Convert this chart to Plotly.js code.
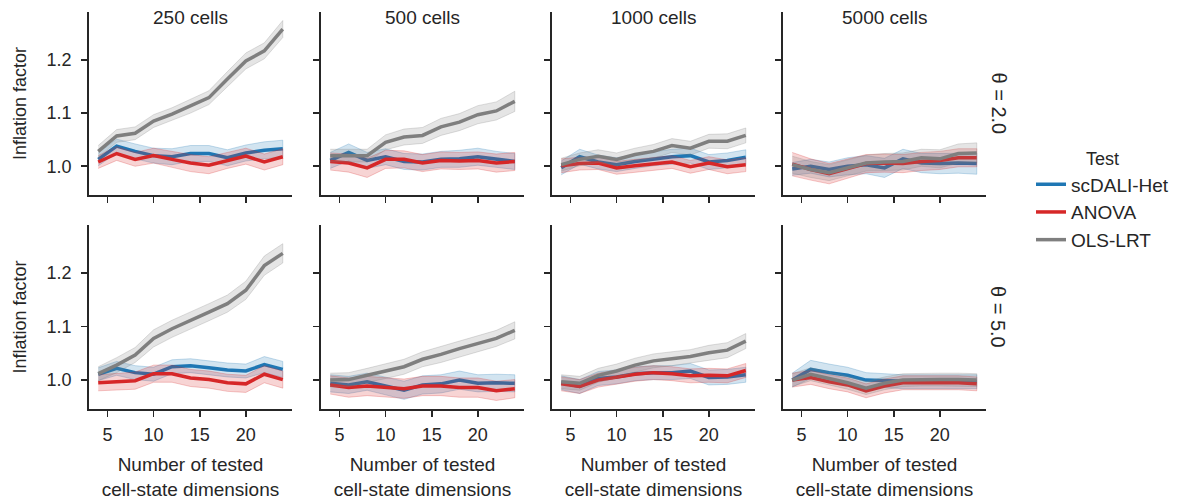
<!DOCTYPE html>
<html>
<head>
<meta charset="utf-8">
<script src="https://cdn.plot.ly/plotly-3.0.1.min.js"></script>
<style>html,body{margin:0;padding:0;background:#fff;}#chart{width:1179px;height:500px;}</style>
</head>
<body>
<div id="chart"></div>
<script>
// ---------------- data ----------------
const xDims = [4, 6, 8, 10, 12, 14, 16, 18, 20, 22, 24];
const cellCounts = ['250 cells', '500 cells', '1000 cells', '5000 cells'];
const thetaLabels = ['θ = 2.0', 'θ = 5.0'];
const testNames = ['scDALI-Het', 'ANOVA', 'OLS-LRT'];
const testColors = ['#1f77b4', '#d62728', '#7f7f7f'];
const yTicks = [1.0, 1.1, 1.2];
const xTicks = [5, 10, 15, 20];

// theta = 2.0
const het_t2_250   = [1.013, 1.038, 1.028, 1.020, 1.018, 1.024, 1.024, 1.016, 1.025, 1.030, 1.033];
const anova_t2_250 = [1.008, 1.024, 1.013, 1.020, 1.013, 1.006, 1.002, 1.011, 1.019, 1.008, 1.018];
const ols_t2_250   = [1.028, 1.057, 1.062, 1.085, 1.098, 1.113, 1.129, 1.164, 1.198, 1.217, 1.258];
const het_t2_250_ci   = [0.012, 0.013, 0.014, 0.014, 0.015, 0.015, 0.015, 0.015, 0.015, 0.016, 0.016];
const anova_t2_250_ci = [0.012, 0.013, 0.013, 0.014, 0.015, 0.016, 0.016, 0.015, 0.015, 0.015, 0.015];
const ols_t2_250_ci   = [0.011, 0.012, 0.012, 0.012, 0.012, 0.013, 0.013, 0.014, 0.015, 0.015, 0.016];

const het_t2_500   = [1.011, 1.026, 1.011, 1.018, 1.009, 1.008, 1.013, 1.014, 1.018, 1.013, 1.009];
const anova_t2_500 = [1.009, 1.006, 0.997, 1.013, 1.013, 1.006, 1.011, 1.010, 1.011, 1.006, 1.009];
const ols_t2_500   = [1.020, 1.020, 1.020, 1.045, 1.055, 1.058, 1.074, 1.083, 1.097, 1.104, 1.122];
const het_t2_500_ci   = [0.015, 0.016, 0.015, 0.015, 0.015, 0.015, 0.015, 0.016, 0.016, 0.015, 0.015];
const anova_t2_500_ci = [0.016, 0.017, 0.018, 0.017, 0.016, 0.016, 0.016, 0.016, 0.016, 0.017, 0.017];
const ols_t2_500_ci   = [0.012, 0.012, 0.012, 0.014, 0.015, 0.015, 0.016, 0.016, 0.017, 0.017, 0.019];

const het_t2_1000   = [0.997, 1.018, 1.008, 1.003, 1.009, 1.014, 1.018, 1.020, 1.008, 1.011, 1.017];
const anova_t2_1000 = [1.001, 1.005, 1.006, 0.997, 1.001, 1.004, 1.008, 0.999, 1.006, 0.999, 1.003];
const ols_t2_1000   = [1.003, 1.013, 1.019, 1.013, 1.022, 1.028, 1.039, 1.034, 1.047, 1.047, 1.058];
const het_t2_1000_ci   = [0.013, 0.014, 0.013, 0.013, 0.013, 0.013, 0.014, 0.014, 0.014, 0.014, 0.014];
const anova_t2_1000_ci = [0.013, 0.012, 0.012, 0.012, 0.012, 0.012, 0.012, 0.012, 0.012, 0.013, 0.013];
const ols_t2_1000_ci   = [0.012, 0.012, 0.012, 0.012, 0.012, 0.013, 0.013, 0.013, 0.013, 0.014, 0.014];

const het_t2_5000   = [0.995, 1.000, 0.994, 1.000, 1.003, 0.997, 1.014, 1.006, 1.005, 1.006, 1.005];
const anova_t2_5000 = [1.004, 0.994, 0.986, 0.995, 1.005, 1.006, 1.005, 1.009, 1.011, 1.016, 1.016];
const ols_t2_5000   = [1.003, 0.994, 0.988, 0.997, 1.006, 1.008, 1.009, 1.016, 1.014, 1.024, 1.025];
const het_t2_5000_ci   = [0.012, 0.013, 0.014, 0.016, 0.017, 0.018, 0.018, 0.018, 0.019, 0.019, 0.020];
const anova_t2_5000_ci = [0.022, 0.020, 0.019, 0.018, 0.017, 0.017, 0.017, 0.017, 0.017, 0.017, 0.017];
const ols_t2_5000_ci   = [0.016, 0.015, 0.015, 0.015, 0.015, 0.016, 0.016, 0.016, 0.017, 0.018, 0.019];

// theta = 5.0
const het_t5_250   = [1.011, 1.022, 1.014, 1.011, 1.025, 1.027, 1.023, 1.019, 1.017, 1.029, 1.020];
const anova_t5_250 = [0.995, 0.997, 0.999, 1.012, 1.012, 1.004, 1.001, 0.995, 0.993, 1.011, 1.001];
const ols_t5_250   = [1.012, 1.028, 1.047, 1.078, 1.096, 1.111, 1.127, 1.143, 1.168, 1.214, 1.237];
const het_t5_250_ci   = [0.012, 0.013, 0.013, 0.013, 0.013, 0.013, 0.013, 0.013, 0.013, 0.015, 0.015];
const anova_t5_250_ci = [0.015, 0.016, 0.016, 0.016, 0.016, 0.016, 0.016, 0.016, 0.016, 0.016, 0.016];
const ols_t5_250_ci   = [0.013, 0.014, 0.014, 0.016, 0.016, 0.016, 0.016, 0.016, 0.017, 0.018, 0.018];

const het_t5_500   = [0.994, 0.991, 0.997, 0.989, 0.981, 0.991, 0.993, 1.000, 0.994, 0.995, 0.994];
const anova_t5_500 = [0.991, 0.986, 0.989, 0.986, 0.984, 0.989, 0.989, 0.986, 0.986, 0.980, 0.984];
const ols_t5_500   = [1.000, 1.001, 1.009, 1.017, 1.025, 1.039, 1.048, 1.059, 1.068, 1.078, 1.093];
const het_t5_500_ci   = [0.016, 0.016, 0.016, 0.017, 0.017, 0.017, 0.017, 0.017, 0.016, 0.016, 0.016];
const anova_t5_500_ci = [0.017, 0.018, 0.018, 0.018, 0.018, 0.018, 0.018, 0.018, 0.018, 0.018, 0.017];
const ols_t5_500_ci   = [0.013, 0.013, 0.013, 0.014, 0.014, 0.014, 0.015, 0.015, 0.015, 0.015, 0.016];

const het_t5_1000   = [0.995, 0.988, 1.003, 1.006, 1.012, 1.014, 1.014, 1.017, 1.005, 1.006, 1.010];
const anova_t5_1000 = [0.993, 0.988, 1.000, 1.005, 1.011, 1.014, 1.012, 1.008, 1.009, 1.008, 1.018];
const ols_t5_1000   = [0.997, 0.994, 1.009, 1.017, 1.028, 1.036, 1.040, 1.044, 1.051, 1.056, 1.073];
const het_t5_1000_ci   = [0.013, 0.013, 0.013, 0.013, 0.013, 0.013, 0.013, 0.014, 0.014, 0.014, 0.014];
const anova_t5_1000_ci = [0.013, 0.013, 0.013, 0.013, 0.013, 0.013, 0.013, 0.013, 0.013, 0.013, 0.013];
const ols_t5_1000_ci   = [0.013, 0.013, 0.013, 0.013, 0.013, 0.013, 0.013, 0.013, 0.014, 0.014, 0.014];

const het_t5_5000   = [1.000, 1.020, 1.014, 1.009, 1.000, 0.999, 0.997, 0.997, 0.997, 0.997, 0.997];
const anova_t5_5000 = [1.000, 1.005, 0.997, 0.991, 0.980, 0.989, 0.995, 0.995, 0.995, 0.995, 0.993];
const ols_t5_5000   = [1.000, 1.011, 1.003, 0.995, 0.985, 0.994, 1.000, 1.001, 1.001, 1.001, 1.000];
const het_t5_5000_ci   = [0.013, 0.017, 0.016, 0.015, 0.014, 0.013, 0.013, 0.013, 0.013, 0.013, 0.013];
const anova_t5_5000_ci = [0.013, 0.013, 0.013, 0.013, 0.013, 0.013, 0.013, 0.013, 0.013, 0.013, 0.013];
const ols_t5_5000_ci   = [0.012, 0.012, 0.012, 0.012, 0.012, 0.012, 0.012, 0.012, 0.012, 0.012, 0.012];

// panels: rows = theta, cols = cell counts
const panels = [
  [[het_t2_250, het_t2_250_ci], [anova_t2_250, anova_t2_250_ci], [ols_t2_250, ols_t2_250_ci]],
  [[het_t2_500, het_t2_500_ci], [anova_t2_500, anova_t2_500_ci], [ols_t2_500, ols_t2_500_ci]],
  [[het_t2_1000, het_t2_1000_ci], [anova_t2_1000, anova_t2_1000_ci], [ols_t2_1000, ols_t2_1000_ci]],
  [[het_t2_5000, het_t2_5000_ci], [anova_t2_5000, anova_t2_5000_ci], [ols_t2_5000, ols_t2_5000_ci]],
  [[het_t5_250, het_t5_250_ci], [anova_t5_250, anova_t5_250_ci], [ols_t5_250, ols_t5_250_ci]],
  [[het_t5_500, het_t5_500_ci], [anova_t5_500, anova_t5_500_ci], [ols_t5_500, ols_t5_500_ci]],
  [[het_t5_1000, het_t5_1000_ci], [anova_t5_1000, anova_t5_1000_ci], [ols_t5_1000, ols_t5_1000_ci]],
  [[het_t5_5000, het_t5_5000_ci], [anova_t5_5000, anova_t5_5000_ci], [ols_t5_5000, ols_t5_5000_ci]]
];

// ---------------- layout helpers ----------------
const W = 1179, H = 500;
const FONT = 'Liberation Sans, Arial, Helvetica, sans-serif';
const INK = '#262626';
const colPx = [[89, 292], [321, 524], [552, 755], [783, 986]];
const rowPx = [[12, 195], [225, 409]];
const yRange = [0.946, 1.29];
const xRange = [3, 25];

function rgba(hex, a) {
  const n = parseInt(hex.slice(1), 16);
  return 'rgba(' + ((n >> 16) & 255) + ',' + ((n >> 8) & 255) + ',' + (n & 255) + ',' + a + ')';
}

const traces = [];
const layout = {
  width: W, height: H,
  margin: {l: 0, r: 0, t: 0, b: 0},
  paper_bgcolor: '#ffffff', plot_bgcolor: 'rgba(0,0,0,0)',
  font: {family: FONT, size: 18, color: INK},
  showlegend: true,
  legend: {
    x: 1031 / W, y: 1 - 142 / H, xanchor: 'left', yanchor: 'top',
    font: {family: FONT, size: 19, color: INK},
    title: {text: 'Test', side: 'top center', font: {family: FONT, size: 18, color: INK}},
    bgcolor: 'rgba(0,0,0,0)', borderwidth: 0, tracegroupgap: 0
  },
  annotations: []
};

for (let r = 0; r < 2; r++) {
  for (let c = 0; c < 4; c++) {
    const n = r * 4 + c + 1;
    const xa = 'x' + (n === 1 ? '' : n), ya = 'y' + (n === 1 ? '' : n);
    const series = panels[r * 4 + c];
    series.forEach(function (s, k) {
      const mean = s[0], ci = s[1];
      const upper = mean.map(function (v, i) { return v + ci[i]; });
      const lower = mean.map(function (v, i) { return v - ci[i]; });
      traces.push({
        type: 'scatter', mode: 'lines', xaxis: xa, yaxis: ya,
        x: xDims.concat(xDims.slice().reverse()),
        y: upper.concat(lower.slice().reverse()),
        fill: 'toself', fillcolor: rgba(testColors[k], 0.2),
        line: {color: rgba(testColors[k], 0.25), width: 1},
        hoverinfo: 'skip', showlegend: false
      });
      traces.push({
        type: 'scatter', mode: 'lines', xaxis: xa, yaxis: ya,
        x: xDims, y: mean, name: testNames[k],
        line: {color: testColors[k], width: 3.5},
        showlegend: n === 1, legendgroup: testNames[k]
      });
    });
    const axBase = {
      showline: true, linecolor: INK, linewidth: 1.8, mirror: false,
      ticks: 'outside', ticklen: 6, tickwidth: 1.6, tickcolor: INK,
      showgrid: false, zeroline: false, fixedrange: true,
      tickfont: {family: FONT, size: 18, color: INK}
    };
    layout['xaxis' + (n === 1 ? '' : n)] = Object.assign({}, axBase, {
      domain: [colPx[c][0] / W, colPx[c][1] / W], anchor: ya,
      range: xRange, tickmode: 'array', tickvals: xTicks,
      showticklabels: r === 1, ticklabelstandoff: 3,
      title: r === 1 ? {text: 'Number of tested<br>cell-state dimensions', standoff: 15,
        font: {family: FONT, size: 19, color: INK}} : {text: ''}
    });
    layout['yaxis' + (n === 1 ? '' : n)] = Object.assign({}, axBase, {
      domain: [1 - rowPx[r][1] / H, 1 - rowPx[r][0] / H], anchor: xa,
      range: yRange, tickmode: 'array', tickvals: yTicks, tickformat: '.1f',
      showticklabels: c === 0, ticklabelstandoff: 6,
      title: c === 0 ? {text: 'Inflation factor', standoff: 15,
        font: {family: FONT, size: 18, color: INK}} : {text: ''}
    });
    if (r === 0) {
      layout.annotations.push({
        xref: 'paper', yref: 'paper', x: (colPx[c][0] + colPx[c][1]) / 2 / W, y: 1 - 17 / H,
        xanchor: 'center', yanchor: 'middle', showarrow: false, text: cellCounts[c],
        font: {family: FONT, size: 19, color: INK}
      });
    }
  }
  layout.annotations.push({
    xref: 'paper', yref: 'paper', x: 998 / W, y: 1 - (rowPx[r][0] + rowPx[r][1]) / 2 / H,
    xanchor: 'center', yanchor: 'middle', showarrow: false, text: thetaLabels[r], textangle: 90,
    font: {family: FONT, size: 20, color: INK}
  });
}

Plotly.newPlot('chart', traces, layout, {staticPlot: true, displayModeBar: false});
</script>
</body>
</html>
